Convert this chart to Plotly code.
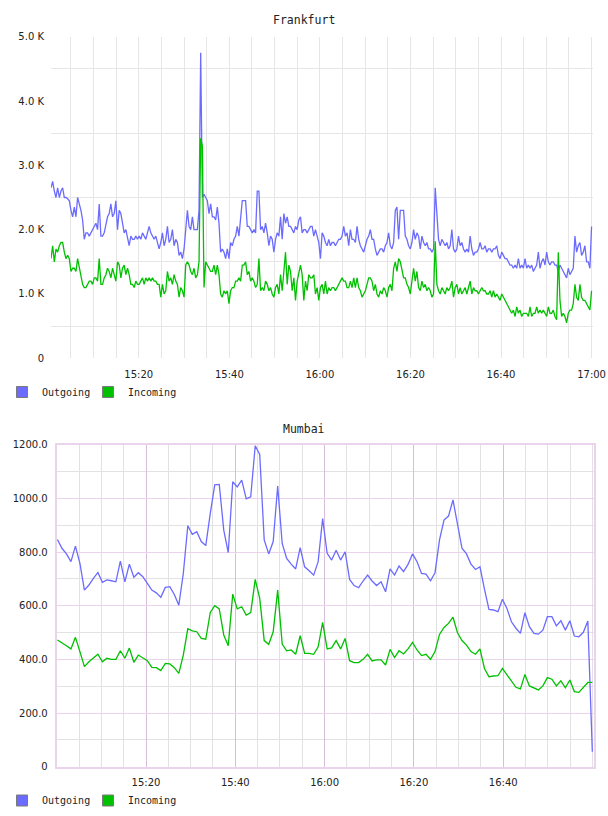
import plotly.graph_objects as go
import pandas as pd

W, H = 608, 816

# ---------------- data ----------------
fra_out = [
    2650, 2750, 2600, 2500, 2650, 2500, 2600, 2650, 2500, 2500,
    2480, 2450, 2300, 2200, 2350, 2200, 2500, 2400, 2300, 2150,
    1850, 1950, 1950, 1900, 1950, 2000, 2050, 2100, 2000, 2400,
    1900, 1900, 1950, 2100, 2200, 2250, 2400, 2200, 2250, 2450,
    2000, 2300, 2250, 2100, 1950, 2000, 1850, 1750, 1900, 1850,
    1850, 1900, 1850, 1900, 1850, 1950, 1900, 1850, 1950, 2050,
    1950, 1900, 1850, 1900, 1800, 1700, 1800, 1950, 1750, 1850,
    2050, 1800, 1850, 2000, 1750, 1850, 1800, 1600, 1650, 1550,
    1700, 2000, 2300, 2050, 2000, 2200, 2000, 2000, 2000, 2300,
    4750, 2500, 2550, 2500, 2450, 2250, 2400, 2200, 2200, 2150,
    2350, 2100, 1650, 1700, 1650, 1550, 1700, 1550, 1800, 1750,
    1850, 1900, 2050, 1900, 2200, 2450, 2450, 2450, 2050, 2050,
    2000, 1950, 2000, 1950, 2600, 2600, 2000, 2050, 1950, 2100,
    1950, 1750, 1900, 1850, 1650, 1850, 1950, 1900, 2200, 1850,
    2250, 2100, 2200, 2050,
    2050, 2000, 1950, 2050, 2000, 2150, 2200, 1950, 2000, 2000,
    1950, 2000, 2050, 2050, 1900, 2000, 1900, 1800, 1550, 1950,
    1900, 1800, 1750, 1850, 1750, 1800, 1800, 1750, 1800, 1850,
    1850, 1900, 2050, 1900, 1950, 1750, 2000, 1850, 1850, 1800,
    2050, 1850, 1750, 1700, 1650, 1750, 1850, 1900, 2000, 1850,
    1850, 1700, 1600, 1650, 1700, 1700, 1650, 1750, 1800, 1950,
    1750, 1700, 1800, 2300, 2350, 1850, 2300, 2300, 2300, 1900,
    1850, 1750, 1700, 1800, 2000, 1850, 1950, 1900, 1700, 1900,
    1800, 1750, 1800, 1700, 1700, 1650, 1700, 2650, 2250, 1850,
    1750, 1850, 1800, 1750, 1800, 1700, 1750, 2000, 1700, 1650,
    1700, 1900, 1750, 1800, 1700, 1650, 1700, 1650, 1900, 1700,
    1600, 1650, 1650, 1700, 1800, 1700, 1700, 1750, 1650, 1700,
    1700, 1650, 1700, 1700, 1750, 1600, 1550, 1650, 1600, 1550,
    1550, 1500, 1450, 1450, 1400, 1450, 1400, 1550, 1400, 1450,
    1400, 1550, 1400, 1450, 1400, 1450, 1350, 1400, 1450, 1650,
    1400, 1500, 1550, 1450, 1650, 1500, 1450, 1500, 1500, 1450,
    1450, 1350, 1450, 1400, 1350, 1300, 1250, 1400, 1300, 1350,
    1400, 1900, 1650, 1750, 1800, 1600, 1650, 1750, 1500, 1500,
    1400, 2050,
]

fra_in = [
    1550, 1750, 1500, 1700, 1650, 1750, 1800, 1800, 1650, 1550,
    1600, 1550, 1350, 1400, 1400, 1350, 1550, 1400, 1250, 1150,
    1100, 1100, 1150, 1200, 1200, 1150, 1250, 1250, 1200, 1550,
    1150, 1150, 1250, 1300, 1400, 1350, 1250, 1400, 1300, 1200,
    1500, 1450, 1250, 1400, 1450, 1300, 1400, 1300, 1150, 1150,
    1100, 1200, 1150, 1150, 1200, 1250, 1150, 1250, 1200, 1250,
    1200, 1250, 1200, 1200, 1150, 1150, 950, 1150, 1000, 1050,
    1350, 1200, 1250, 1150, 1300, 1200, 1150, 950, 1100, 1050,
    950, 1450, 1500, 1450, 1350, 1300, 1400, 1250, 1300, 1500,
    3420, 3300, 1100, 1500, 1450, 1400, 1350, 1350, 1450, 1300,
    1450, 1300, 1000, 950, 1050, 1000, 1050, 850, 1050, 1100,
    1100, 1200, 1200, 1250, 1200, 1450, 1450, 1500, 1300, 1350,
    1200, 1250, 1200, 1100, 1150, 1550, 1050, 1100, 1050, 1200,
    1150, 1050, 1100, 1000, 950, 1100, 1150, 1000, 1300, 1050,
    1300, 1650, 1150, 1450,
    1350, 1050, 1250, 900, 1200, 1350, 1450, 1300, 900, 1200,
    1050, 1300, 1250, 1250, 1300, 1000, 1100, 900, 1100, 1150,
    1000, 1200, 1000, 1100, 1050, 1100, 1100, 1050, 1100, 1150,
    1200, 1250, 1200, 1200, 1100, 1100, 1200, 1100, 1250, 1100,
    1250, 1100, 1050, 950, 1000, 1050, 1150, 1250, 1250, 1200,
    1050, 1150, 1000, 950, 1050, 1000, 1100, 1050, 950, 1100,
    1150, 1050, 1400, 1500, 1350, 1550, 1500, 1350, 1250, 1250,
    1150, 1100, 1000, 1200, 1400, 1200, 1350, 1100, 1050, 1200,
    1100, 1150, 1050, 1100, 1050, 950, 1000, 1820, 1150, 1050,
    1000, 1100, 1050, 1000, 1100, 1050, 1100, 1200, 950, 1100,
    1150, 1000, 1100, 1000, 1050, 1100, 1000, 1100, 1200, 1000,
    1100, 1050, 1050, 1000, 1050, 1100, 1050, 1050, 1000, 1000,
    1050, 950, 1050, 950, 1000, 950, 900, 1000, 950, 900,
    850, 800, 750, 700, 750, 650, 800, 700, 750, 650,
    700, 700, 700, 650, 800, 650, 700, 700, 800, 700,
    750, 700, 750, 700, 650, 800, 700, 700, 750, 650,
    600, 1650, 900, 650, 700, 650, 550, 700, 750, 750,
    850, 1150, 950, 900, 1150, 950, 900, 900, 850, 800,
    750, 1050,
]

mum_out = [
    847, 814, 793, 764, 822, 758, 658, 677, 702, 724,
    687, 696, 693, 689, 766, 689, 755, 706, 723, 708,
    683, 658, 648, 631, 668, 671, 642, 602, 720, 898,
    866, 876, 839, 824, 944, 1050, 1052, 882, 798, 1062,
    1043, 1068, 998, 1006, 1196, 1164, 845, 793, 839, 1046,
    832, 776, 755, 737, 816, 745, 730, 714, 764,
    925, 795, 770, 807, 770, 801, 698, 675, 667, 692,
    714, 692, 675, 689, 652, 737, 714, 748, 727, 754,
    793, 764, 720, 718, 693, 723, 845, 919, 934, 994,
    901, 814, 793, 755, 735, 745, 662, 586, 584, 578,
    624, 590, 540, 516, 497, 574, 522, 497, 494, 509,
    559, 559, 525, 544, 509, 544, 487, 484, 501, 543,
    56,
]

mum_in = [
    472, 463, 451, 439, 482, 429, 373, 391, 404, 419,
    391, 404, 400, 400, 432, 404, 442, 389, 416, 407,
    395, 370, 369, 358, 385, 383, 369, 348, 416, 514,
    506, 503, 478, 475, 575, 600, 588, 491, 451, 643,
    588, 596, 565, 574, 698, 627, 470, 456, 503, 658,
    457, 432, 435, 419, 488, 422, 422, 419, 447,
    538, 439, 443, 470, 439, 478, 395, 388, 388, 400,
    419, 394, 398, 398, 379, 437, 407, 432, 420, 439,
    463, 435, 414, 419, 400, 429, 493, 519, 534, 557,
    499, 470, 453, 429, 419, 439, 366, 335, 338, 339,
    366, 344, 320, 296, 290, 344, 301, 292, 286, 301,
    332, 326, 301, 320, 294, 323, 280, 277, 296, 314,
    314,
]

series_names = ["Outgoing", "Incoming"]
titles = ["Frankfurt", "Mumbai"]

fra_time = pd.date_range("2024-01-01 15:00:37", periods=len(fra_out), freq="22040ms")
mum_time = pd.date_range("2024-01-01 15:00:10", periods=len(mum_out), freq="60400ms")

# Mumbai labelled ticks (the reference shows no label at the plot edges)
mum_xticks = pd.date_range("2024-01-01 15:20", "2024-01-01 16:40", freq="20min")

# ---------------- style ----------------
BLUE = "#6b6bff"
GREEN = "#00c000"
TXT = "#222222"
MONO = "DejaVu Sans Mono"
SANS = "DejaVu Sans"


def xdom(a, b):
    return [a / W, b / W]


def ydom(top, bottom):
    return [1 - bottom / H, 1 - top / H]


fig = go.Figure()

# Frankfurt
for vals, name, col in [(fra_out, series_names[0], BLUE), (fra_in, series_names[1], GREEN)]:
    fig.add_trace(go.Scatter(x=fra_time, y=vals, mode="lines", name=name,
                             line=dict(color=col, width=1.3), showlegend=False,
                             xaxis="x", yaxis="y"))
# Mumbai
for vals, name, col in [(mum_out, series_names[0], BLUE), (mum_in, series_names[1], GREEN)]:
    fig.add_trace(go.Scatter(x=mum_time, y=vals, mode="lines", name=name,
                             line=dict(color=col, width=1.3), showlegend=False,
                             xaxis="x2", yaxis="y2"))

# legend swatches: one legend box per entry so each can be placed like the reference
legend_ids = [("legend", "legend2", "x", "y"), ("legend3", "legend4", "x2", "y2")]
for (leg_a, leg_b, xa, ya) in legend_ids:
    for leg, name, col in [(leg_a, series_names[0], BLUE), (leg_b, series_names[1], GREEN)]:
        fig.add_trace(go.Scatter(x=[None], y=[None], mode="markers", name=name,
                                 marker=dict(symbol="square", size=11, color=col,
                                             line=dict(color="#7a7a7a", width=1)),
                                 legend=leg, xaxis=xa, yaxis=ya, showlegend=True))

fra_yt = list(range(0, 5001, 1000))
mum_yt = list(range(0, 1201, 200))

common_x = dict(
    type="date", tickformat="%H:%M",
    ticks="", tickfont=dict(family=SANS, size=10, color=TXT), zeroline=False,
    automargin=False, fixedrange=True,
)

legend_common = dict(orientation="h", xanchor="left", yanchor="middle",
                     font=dict(family=MONO, size=10, color=TXT), bgcolor="rgba(0,0,0,0)",
                     itemclick=False, itemdoubleclick=False)

fig.update_layout(
    width=W, height=H, margin=dict(l=0, r=0, t=0, b=0),
    paper_bgcolor="white", plot_bgcolor="white",
    xaxis=dict(
        common_x, domain=xdom(51, 593.3), anchor="y",
        range=["2024-01-01 15:00:37", "2024-01-01 17:00:23"],
        dtick=20 * 60 * 1000, tick0="2024-01-01 15:00:00", ticklabelstandoff=9,
        showgrid=True, gridcolor="#e6e6e6", gridwidth=1, showline=False,
        minor=dict(dtick=5 * 60 * 1000, tick0="2024-01-01 15:00:00", showgrid=True,
                   gridcolor="#e6e6e6", gridwidth=1),
    ),
    yaxis=dict(
        domain=ydom(36.7, 358.3), anchor="x", range=[0, 5000],
        tickmode="array", tickvals=fra_yt,
        ticktext=[("%.1f K" % (v / 1000)) if v else "0" for v in fra_yt],
        ticks="", showgrid=False, zeroline=False, showline=False,
        tickfont=dict(family=SANS, size=10, color=TXT), ticklabelstandoff=6,
        automargin=False, fixedrange=True,
        minor=dict(tick0=500, dtick=1000, showgrid=True, gridcolor="#e6e6e6", gridwidth=1),
    ),
    xaxis2=dict(
        common_x, domain=xdom(56.7, 594), anchor="y2",
        range=["2024-01-01 15:00:00", "2024-01-01 17:00:20"],
        tickmode="array", tickvals=list(mum_xticks), ticklabelstandoff=5,
        showgrid=True, gridcolor="#d9bedb", gridwidth=1,
        showline=True, mirror=True, linecolor="#ead4ec", linewidth=2,
        minor=dict(dtick=5 * 60 * 1000, tick0="2024-01-01 15:00:00", showgrid=True,
                   gridcolor="#e2e2e2", gridwidth=1),
    ),
    yaxis2=dict(
        domain=ydom(444.7, 766.7), anchor="x2", range=[0, 1200],
        tickmode="array", tickvals=mum_yt,
        ticktext=[("%.1f" % v) if v else "0" for v in mum_yt],
        ticks="", showgrid=True, gridcolor="#ebd3ec", gridwidth=1, zeroline=False,
        showline=True, mirror=True, linecolor="#ead4ec", linewidth=2,
        tickfont=dict(family=SANS, size=10, color=TXT), ticklabelstandoff=5,
        automargin=False, fixedrange=True,
        minor=dict(dtick=100, showgrid=True, gridcolor="#e2e2e2", gridwidth=1),
    ),
    legend=dict(legend_common, x=2 / W, y=1 - 392 / H),
    legend2=dict(legend_common, x=88 / W, y=1 - 392 / H),
    legend3=dict(legend_common, x=2 / W, y=1 - 800.5 / H),
    legend4=dict(legend_common, x=88 / W, y=1 - 800.5 / H),
    annotations=[
        dict(text=titles[0], x=304 / W, y=1 - 20 / H, xref="paper", yref="paper",
             xanchor="center", yanchor="middle", showarrow=False,
             font=dict(family=MONO, size=11.5, color=TXT)),
        dict(text=titles[1], x=304 / W, y=1 - 429 / H, xref="paper", yref="paper",
             xanchor="center", yanchor="middle", showarrow=False,
             font=dict(family=MONO, size=11.5, color=TXT)),
    ],
)

fig.write_html("out.html")
